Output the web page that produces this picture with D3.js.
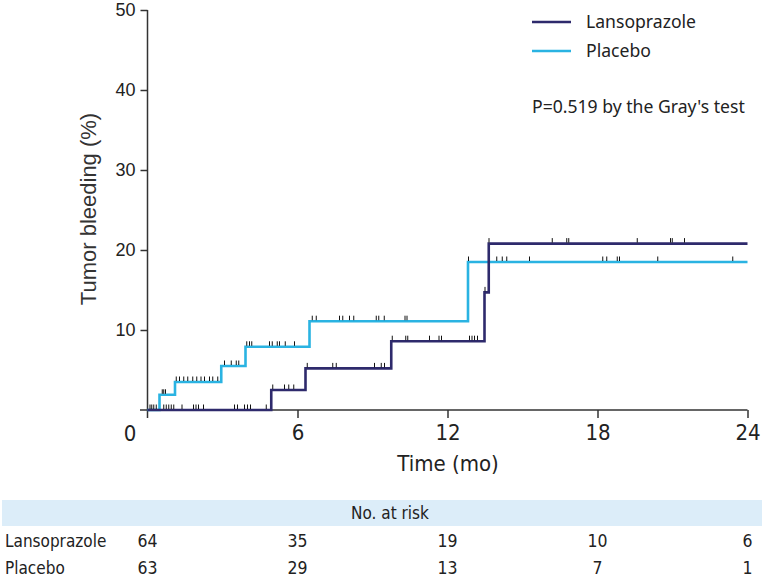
<!DOCTYPE html>
<html><head><meta charset="utf-8">
<script src="https://cdn.jsdelivr.net/npm/d3@7"></script>
<style>body{margin:0;background:#fff}</style>
</head><body><svg id="c" width="764" height="582"></svg>
<script>
const seriesNames = ["Lansoprazole", "Placebo"];
const seriesColors = ["#2e2a6c", "#2ab3e2"];
const lansoTimes  = [0, 4.95, 6.32, 9.75, 13.48, 13.65, 24];
const lansoValues = [0, 2.5, 5.2, 8.6, 14.7, 20.8, 20.8];
const placeboTimes  = [0, 0.48, 1.1, 2.95, 3.92, 6.48, 12.82, 24];
const placeboValues = [0, 1.9, 3.5, 5.5, 7.9, 11.1, 18.5, 18.5];
const lansoCensor = [0.65,0.75,0.85,0.95,1.05,1.38,1.84,1.94,2.04,2.24,3.48,3.6,3.88,4.0,4.12,4.75,
  5.01,5.48,5.65,5.85, 6.39,7.41,7.55,9.08,9.35,9.48, 9.79,10.33,10.41,11.28,11.66,11.76,12.88,12.98,13.08,13.2,
  13.5, 13.66,16.19,16.77,16.85,19.59,20.92,20.99,21.48];
const placeboCensor = [0.1,0.17,0.25,0.35, 0.59,0.65,0.72, 1.15,1.28,1.45,1.61,1.81,1.97,2.14,2.28,2.48,2.61,2.81,
  3.08,3.35,3.55,3.65, 3.97,4.08,4.17,4.88,4.99,5.19,5.28,5.51,5.88,
  6.59,6.75,7.68,7.81,8.08,8.25,9.15,9.25,9.47,10.3,10.38,
  12.84,13.97,14.19,14.37,15.28,18.21,18.37,18.79,18.88,20.41,23.41];
const xTicks = [0, 6, 12, 18, 24];
const yTicks = [0, 10, 20, 30, 40, 50];
const riskTimes = [0, 6, 12, 18, 24];
const riskLanso = [64, 35, 19, 10, 6];
const riskPlacebo = [63, 29, 13, 7, 1];
const pText = "P=0.519 by the Gray's test";

const svg = d3.select("#c");
const x = d3.scaleLinear().domain([0, 24]).range([147.5, 747.5]);
const y = d3.scaleLinear().domain([0, 50]).range([410, 10]);
const narrow = "'Liberation Sans Narrow','DejaVu Sans Condensed',sans-serif";
const arial = "'Liberation Sans',Arial,sans-serif";
const sans = "'Noto Sans','Open Sans',sans-serif";

// axes
const yAxis = svg.append("g").attr("transform", "translate(147.5,0)")
  .call(d3.axisLeft(y).tickValues(yTicks.filter(d => d > 0)).tickSize(7).tickSizeOuter(0).tickPadding(5));
yAxis.select(".domain").attr("d", "M0," + y(50) + "V418");
const xAxis = svg.append("g").attr("transform", "translate(0,410)")
  .call(d3.axisBottom(x).tickValues(xTicks.filter(d => d > 0)).tickSize(8).tickSizeOuter(0).tickPadding(6));
xAxis.select(".domain").attr("d", "M140,0H" + x(24));
[yAxis, xAxis].forEach(a => {
  a.selectAll(".domain").attr("stroke", "#333").attr("stroke-width", 1.5);
  a.selectAll(".tick line").attr("stroke", "#333").attr("stroke-width", 1.5);
});
yAxis.selectAll("text").attr("font-family", arial).attr("font-size", 18).attr("fill", "#222");
xAxis.selectAll("text").attr("font-family", narrow).attr("font-size", 22).attr("fill", "#222");
svg.append("text").attr("x", 130).attr("y", 441).attr("text-anchor", "middle")
  .attr("font-family", narrow).attr("font-size", 22).attr("fill", "#222").text("0");

svg.append("text").attr("transform", "translate(96,209) rotate(-90)").attr("text-anchor", "middle")
  .attr("font-family", arial).attr("font-size", 22).attr("fill", "#333").text("Tumor bleeding (%)");
svg.append("text").attr("x", 448).attr("y", 471).attr("text-anchor", "middle")
  .attr("font-family", narrow).attr("font-size", 22).attr("fill", "#222").text("Time (mo)");

// curves
const curves = [
  {times: placeboTimes, values: placeboValues, censor: placeboCensor, color: seriesColors[1]},
  {times: lansoTimes, values: lansoValues, censor: lansoCensor, color: seriesColors[0]}
];
const line = d3.line().curve(d3.curveStepAfter).x(d => x(d[0])).y(d => y(d[1]));
curves.forEach(c => {
  const pts = c.times.map((t, i) => [t, c.values[i]]);
  svg.append("path").attr("d", line(pts)).attr("fill", "none")
    .attr("stroke", c.color).attr("stroke-width", 2.6);
});
curves.forEach(c => {
  c.censor.forEach(t => {
    const i = d3.bisectRight(c.times, t) - 1;
    const v = c.values[i];
    svg.append("line").attr("x1", x(t)).attr("x2", x(t)).attr("y1", y(v) - 1).attr("y2", y(v) - 5.5)
      .attr("stroke", "#111").attr("stroke-width", 1);
  });
});

// legend
seriesNames.forEach((n, i) => {
  const ly = 22 + i * 29;
  svg.append("line").attr("x1", 532).attr("x2", 571).attr("y1", ly).attr("y2", ly)
    .attr("stroke", seriesColors[i]).attr("stroke-width", 2.6);
  svg.append("text").attr("x", 586).attr("y", ly).attr("dy", "0.35em")
    .attr("font-family", sans).attr("font-size", 17.6).attr("fill", "#222").text(n);
});
svg.append("text").attr("x", 532).attr("y", 107).attr("dy", "0.35em")
  .attr("font-family", sans).attr("font-size", 17.6).attr("fill", "#222").text(pText);

// risk table
svg.append("rect").attr("x", 2).attr("y", 500).attr("width", 760).attr("height", 26).attr("fill", "#dcedf9");
svg.append("text").attr("x", 390).attr("y", 513).attr("dy", "0.35em").attr("text-anchor", "middle")
  .attr("font-family", narrow).attr("font-size", 17).attr("fill", "#222").text("No. at risk");
[riskLanso, riskPlacebo].forEach((row, r) => {
  const ry = 541 + r * 27;
  svg.append("text").attr("x", 5).attr("y", ry).attr("dy", "0.35em")
    .attr("font-family", narrow).attr("font-size", 17).attr("fill", "#222").text(seriesNames[r]);
  row.forEach((v, i) => {
    svg.append("text").attr("x", x(riskTimes[i])).attr("y", ry).attr("dy", "0.35em").attr("text-anchor", "middle")
      .attr("font-family", narrow).attr("font-size", 17.5).attr("fill", "#222").text(v);
  });
});
</script></body></html>
